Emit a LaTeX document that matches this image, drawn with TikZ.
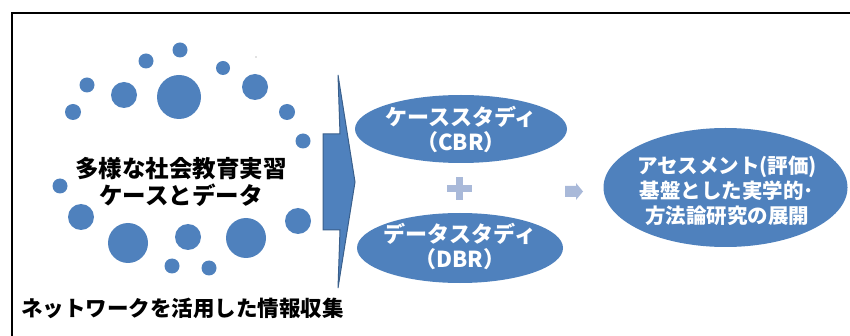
\documentclass[tikz,border=0pt]{standalone}
\usepackage{fontspec}
\newfontfamily\jp{Noto Sans CJK JP}
\usetikzlibrary{shapes.geometric}
\definecolor{blu}{HTML}{4F81BD}
\definecolor{blud}{HTML}{3A5F8B}
\definecolor{lite}{HTML}{A9B9D9}
\tikzset{
  bubble/.style={ellipse, fill=blu, inner sep=0pt},
  whitetxt/.style={text=white, font=\jp\bfseries\fontsize{22}{25}\selectfont, align=center, inner sep=0pt},
  blacktxt/.style={text=black, font=\jp\bfseries\fontsize{23.5}{27}\selectfont, align=center, inner sep=0pt},
}
\begin{document}
\begin{tikzpicture}[x=1pt,y=-1pt]
\useasboundingbox (0,0) rectangle (850,336);
% frame (only top and left visible)
\draw[line width=2pt] (850,13) -- (12,13) -- (12,336);
% circles
\foreach \x/\y/\r in {180/50/7.5, 146/61/7.5, 223/68/7, 87/85/7.5, 124/95/13,
  179/97/22, 255/87/13, 73/112/8, 287/112/8, 303/141/7.5, 60/186/7.5,
  81/217/13, 298/221/13, 128/243/20, 188/237/13, 246/238/20, 172/266/7.5, 209/268/7.5}
  \fill[blu] (\x,\y) circle (\r pt);
\fill[gray] (256,57) circle (0.7pt);
% left texts
\node[blacktxt] (src) at (181,182) {多様な社会教育実習\\ケースとデータ};
\node[blacktxt, font=\jp\bfseries\fontsize{21.5}{25}\selectfont] (net) at (182.5,308) {ネットワークを活用した情報収集};
% big arrow
\draw[blud, fill=blu, line width=1pt, line join=miter]
  (323,134) -- (340,134) -- (338,75) -- (355,182) -- (338,288) -- (340,230) -- (323,230) -- cycle;
% ellipses
\node[bubble, minimum width=212pt, minimum height=68pt] (cbr) at (461,129) {};
\node[whitetxt] (cbrt) at (cbr.center) {ケーススタディ\\（CBR）};
\node[bubble, minimum width=206pt, minimum height=70pt] (dbr) at (460,248) {};
\node[whitetxt] (dbrt) at ([yshift=1.5pt]dbr.center) {データスタディ\\（DBR）};
\node[bubble, minimum width=244pt, minimum height=119pt] (res) at (725.5,187.5) {};
\node[whitetxt, font=\jp\bfseries\fontsize{20.5}{25}\selectfont] (rest) at (727,191) {アセスメント(評価)\\基盤とした実学的･\\方法論研究の展開};
% plus sign
\fill[lite] (447,185) rectangle (472,192);
\fill[lite] (456,177) rectangle (463,200);
% small arrow
\fill[lite] (565,186) -- (576,186) -- (576,183) -- (583,191.5) -- (576,200) -- (576,197) -- (565,197) -- cycle;
\end{tikzpicture}
\end{document}
